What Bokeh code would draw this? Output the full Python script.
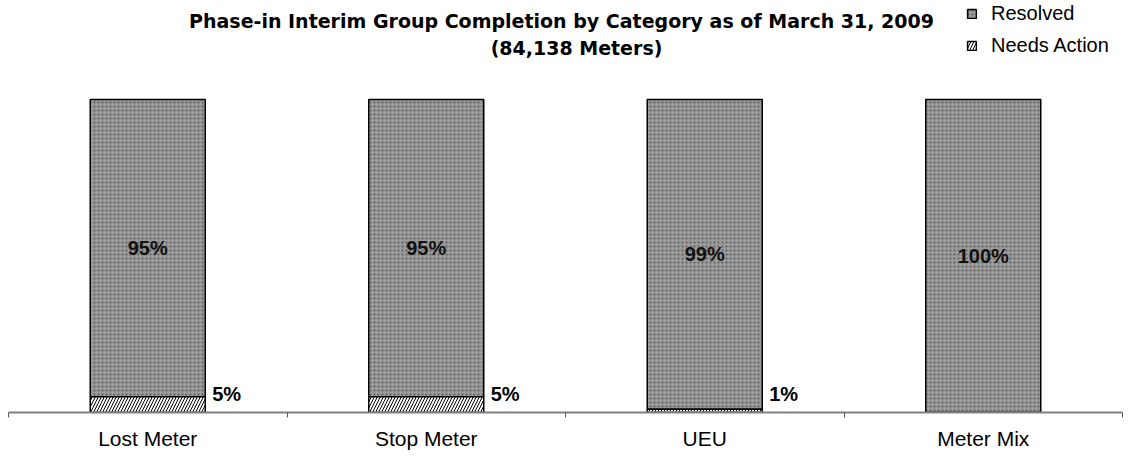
from bokeh.plotting import figure
from bokeh.models import ColumnDataSource, Range1d, FixedTicker, Label, Legend, LegendItem
from bokeh.core.properties import value
from bokeh.embed import file_html
from bokeh.resources import INLINE

categories = ["Lost Meter", "Stop Meter", "UEU", "Meter Mix"]
resolved = [95, 95, 99, 100]
needs_action = [5, 5, 1, 0]
title_line1 = "Phase-in Interim Group Completion by Category as of March 31, 2009"
title_line2 = "(84,138 Meters)"

n = len(categories)
xs = [i + 0.5 for i in range(n)]
src = ColumnDataSource(dict(
    x=xs,
    needs=needs_action,
    top=[a + b for a, b in zip(needs_action, resolved)],
    mid=[a + b / 2 for a, b in zip(needs_action, resolved)],
    rlabel=[f"{v}%" for v in resolved],
))
nz = [i for i in range(n) if needs_action[i] > 0]
src2 = ColumnDataSource(dict(
    x=[xs[i] for i in nz],
    y=[6.0 for i in nz],
    label=[f"{needs_action[i]}%" for i in nz],
))

p = figure(frame_width=1114, frame_height=412, output_backend="svg", toolbar_location=None,
           x_range=Range1d(0, n), y_range=Range1d(0, 131.6), y_axis_location=None,
           min_border_left=8, min_border_right=1, min_border_top=0, min_border_bottom=36)
p.outline_line_color = None
p.grid.visible = False
p.background_fill_color = "white"

BW = 0.413
r_res = p.vbar(x="x", bottom="needs", top="top", width=BW, source=src,
               fill_color="#9a9a9a", line_color="black", line_width=1.5,
               hatch_pattern=".", hatch_color="#5a5a5a", hatch_scale=4, hatch_weight=1)
r_need = p.vbar(x="x", bottom=0, top="needs", width=BW, source=src,
                fill_color="white", line_color="black", line_width=1.5,
                hatch_pattern="/", hatch_color="black", hatch_scale=6, hatch_weight=1)

p.text(x="x", y="mid", text="rlabel", source=src, text_align="center",
       text_baseline="middle", text_font=value("Liberation Sans"), text_font_style="bold",
       text_font_size="20px", text_color="#111111")
p.text(x="x", y="y", text="label", source=src2, x_offset=115 / 2 + 7, text_align="left",
       text_baseline="middle", text_font=value("Liberation Sans"), text_font_style="bold",
       text_font_size="20px", text_color="black")

ax = p.xaxis[0]
ax.ticker = FixedTicker(ticks=xs, minor_ticks=list(range(n + 1)))
ax.major_label_overrides = {x: c for x, c in zip(xs, categories)}
ax.major_tick_out = 0
ax.major_tick_in = 0
ax.minor_tick_out = 5
ax.minor_tick_in = 0
ax.minor_tick_line_color = "#555555"
ax.axis_line_color = "#808080"
ax.axis_line_width = 2
ax.major_label_standoff = 9
ax.major_label_text_font = "Liberation Sans"
ax.major_label_text_font_size = "21px"
ax.major_label_text_color = "black"

p.add_layout(Label(x=553, y=392, x_units="screen", y_units="screen", text=title_line1,
                   text_align="center", text_baseline="middle", text_font="DejaVu Sans",
                   text_font_style="bold", text_font_size="19px", text_color="black"))
p.add_layout(Label(x=568, y=365, x_units="screen", y_units="screen", text=title_line2,
                   text_align="center", text_baseline="middle", text_font="DejaVu Sans",
                   text_font_style="bold", text_font_size="19px", text_color="black"))

legend = Legend(items=[LegendItem(label="Resolved", renderers=[r_res]),
                       LegendItem(label="Needs Action", renderers=[r_need])],
                location=(958, 355), glyph_width=11, glyph_height=11, spacing=9,
                label_text_font="Liberation Sans", label_text_font_size="20px",
                label_text_color="black",
                label_standoff=14, padding=0, margin=0, border_line_alpha=0,
                background_fill_alpha=0)
p.add_layout(legend)

open("out.html", "w").write(file_html(p, INLINE))
